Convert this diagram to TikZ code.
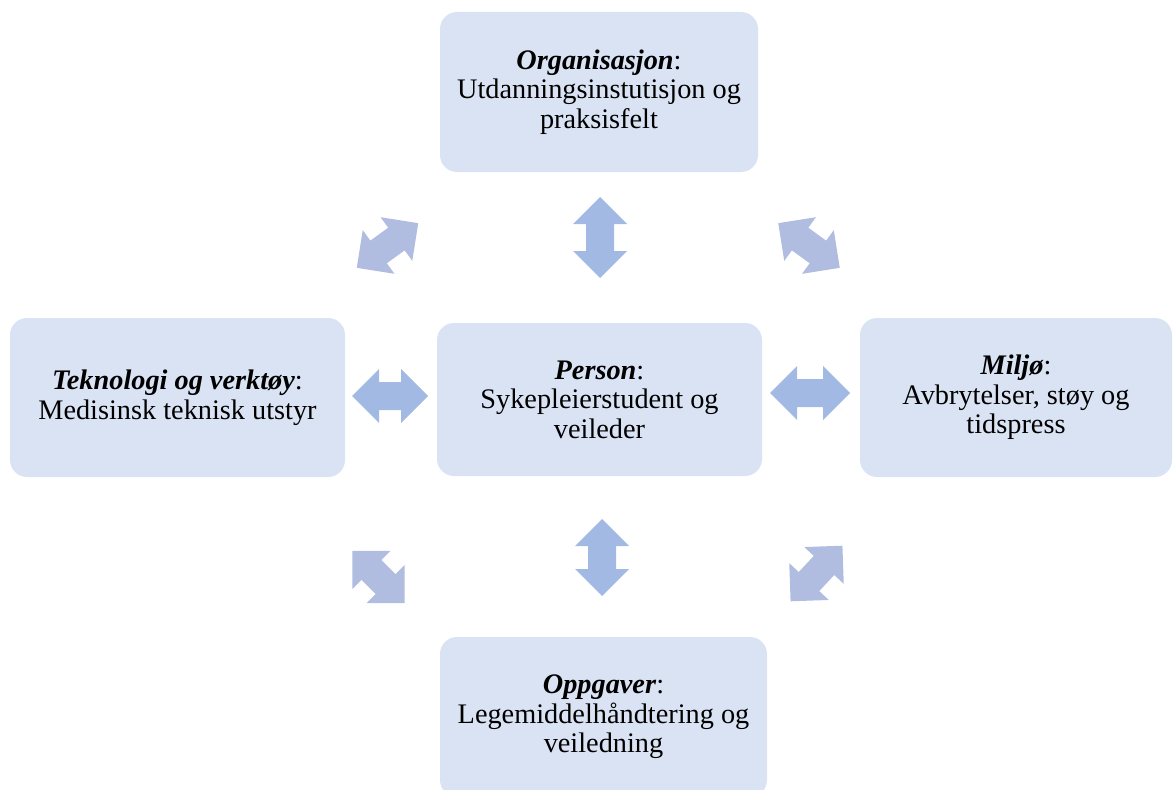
\documentclass[tikz,border=0pt]{standalone}
\usepackage{fontspec}
\setmainfont{Liberation Serif}
\definecolor{boxfill}{HTML}{DAE3F3}
\definecolor{strc}{HTML}{A2BAE3}
\definecolor{diagc}{HTML}{B0BDE0}
\tikzset{
  box/.style={rectangle, rounded corners=17pt, fill=boxfill, align=center, inner sep=0pt,
    font=\fontsize{28.3}{29.5}\selectfont},
  pics/dblarrow/.style={code={
    \fill (-#1,0) -- (-#1+27,27) -- (-#1+27,14) -- (#1-27,14) -- (#1-27,27) -- (#1,0)
      -- (#1-27,-27) -- (#1-27,-14) -- (-#1+27,-14) -- (-#1+27,-27) -- cycle;
  }}
}
\newcommand{\lbl}[1]{\textbf{\textit{#1}}}
\begin{document}
\begin{tikzpicture}[x=1pt,y=-1pt]
\useasboundingbox (0,0) rectangle (1174,789);
\node[box, minimum width=318pt, minimum height=160pt] (org) at (599,92)
  {\lbl{Organisasjon}:\\Utdanningsinstutisjon og\\praksisfelt};
\node[box, minimum width=335pt, minimum height=159pt] (tek) at (177.5,397.5)
  {\lbl{Teknologi og verktøy}:\\Medisinsk teknisk utstyr};
\node[box, minimum width=325pt, minimum height=153pt] (per) at (599.5,399.5)
  {\lbl{Person}:\\Sykepleierstudent og\\veileder};
\node[box, minimum width=312pt, minimum height=159pt] (mil) at (1016,397.5)
  {\lbl{Miljø}:\\Avbrytelser, støy og\\tidspress};
\node[box, minimum width=327pt, minimum height=160pt] (opp) at (603.5,717)
  {\lbl{Oppgaver}:\\Legemiddelhåndtering og\\veiledning};
% straight double arrows
\pic[fill=strc, rotate=90] (aT) at (600,237.5) {dblarrow=40.5};
\pic[fill=strc, rotate=90] (aB) at (602,557.5) {dblarrow=38.5};
\pic[fill=strc] (aL) at (390,396) {dblarrow=38};
\pic[fill=strc] (aR) at (810,393) {dblarrow=40};
% diagonal double arrows
\pic[fill=diagc, rotate=36] (dTL) at (387.5,245.5) {dblarrow=38};
\pic[fill=diagc, rotate=-36] (dTR) at (809,245.5) {dblarrow=38};
\pic[fill=diagc, rotate=-45] (dBL) at (378.5,577) {dblarrow=37};
\pic[fill=diagc, rotate=47] (dBR) at (816.5,573.5) {dblarrow=38};
\end{tikzpicture}
\end{document}
